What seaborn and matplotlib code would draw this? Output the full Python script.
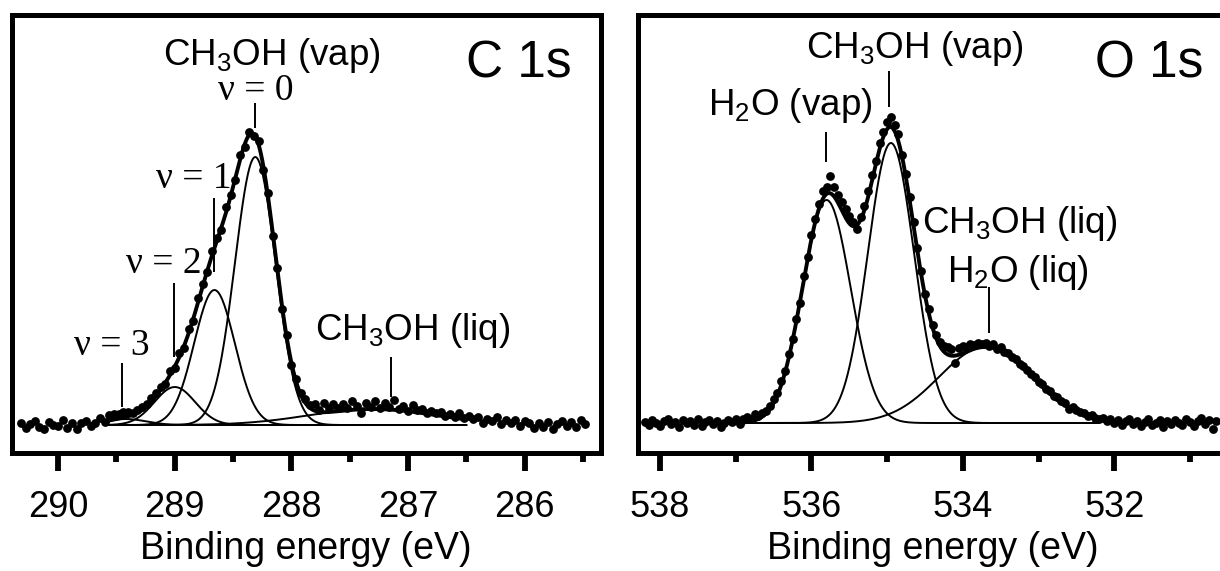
import matplotlib
matplotlib.use("Agg")
import matplotlib.pyplot as plt
import numpy as np
import pandas as pd
import seaborn as sns

# ---- C 1s spectrum: measured points (binding energy in eV, intensity in a.u.)
c1s_energy = [
    290.32, 290.28, 290.24, 290.20, 290.16, 290.12, 290.08, 290.04, 290.00, 289.96,
    289.92, 289.88, 289.84, 289.80, 289.76, 289.72, 289.68, 289.64, 289.60, 289.56,
    289.52, 289.48, 289.44, 289.40, 289.36, 289.32, 289.28, 289.24, 289.20, 289.16,
    289.12, 289.08, 289.04, 289.00, 288.96, 288.92, 288.88, 288.84, 288.80, 288.76,
    288.72, 288.68, 288.64, 288.60, 288.56, 288.52, 288.48, 288.44, 288.40, 288.36,
    288.32, 288.28, 288.24, 288.20, 288.16, 288.12, 288.08, 288.04, 288.00, 287.96,
    287.92, 287.88, 287.84, 287.80, 287.76, 287.72, 287.68, 287.64, 287.60, 287.56,
    287.52, 287.48, 287.44, 287.40, 287.36, 287.32, 287.28, 287.24, 287.20, 287.16,
    287.12, 287.08, 287.04, 287.00, 286.96, 286.92, 286.88, 286.84, 286.80, 286.76,
    286.72, 286.68, 286.64, 286.60, 286.56, 286.52, 286.48, 286.44, 286.40, 286.36,
    286.32, 286.28, 286.24, 286.20, 286.16, 286.12, 286.08, 286.04, 286.00, 285.96,
    285.92, 285.88, 285.84, 285.80, 285.76, 285.72, 285.68, 285.64, 285.60, 285.56,
    285.52, 285.48,
]
c1s_counts = [
    2, -3, 1, 4, -2, -4, 3, 0, -1, 5,
    -3, 2, -4, 2, 4, -1, 2, 7, 3, 10,
    11, 11, 13, 13, 12, 15, 18, 21, 27, 32,
    38, 41, 54, 57, 72, 77, 96, 104, 127, 141,
    153, 174, 187, 195, 218, 230, 245, 270, 278, 293,
    289, 284, 255, 232, 189, 157, 116, 90, 60, 46,
    32, 26, 20, 21, 15, 22, 17, 21, 17, 21,
    17, 24, 19, 12, 22, 18, 24, 17, 22, 18,
    25, 16, 19, 14, 20, 15, 16, 12, 14, 12,
    13, 9, 11, 8, 12, 7, 9, 6, 8, 2,
    6, 4, 8, 1, 5, 2, 5, -1, 4, 2,
    -3, 2, -2, 3, -4, 1, 4, -1, 3, -2,
    5, 1,
]

# C 1s fit components: centre (eV), height (a.u.), FWHM (eV)
c1s_centre = [288.31, 288.66, 289.00, 289.42, 287.30]
c1s_height = [268, 135, 38, 6, 16]
c1s_fwhm = [0.41, 0.41, 0.41, 0.41, 1.30]
c1s_fit_range = [289.60, 286.50]

# ---- O 1s spectrum
o1s_energy = [
    538.20, 538.15, 538.10, 538.05, 538.00, 537.95, 537.90, 537.85, 537.80, 537.75,
    537.70, 537.65, 537.60, 537.55, 537.50, 537.45, 537.40, 537.35, 537.30, 537.25,
    537.20, 537.15, 537.10, 537.05, 537.00, 536.95, 536.90, 536.85, 536.80, 536.75,
    536.70, 536.65, 536.60, 536.55, 536.50, 536.45, 536.40, 536.35, 536.30, 536.25,
    536.20, 536.15, 536.10, 536.05, 536.00, 535.95, 535.90, 535.85, 535.80, 535.75,
    535.70, 535.65, 535.60, 535.55, 535.50, 535.45, 535.40, 535.35, 535.30, 535.25,
    535.20, 535.15, 535.10, 535.05, 535.00, 534.95, 534.90, 534.85, 534.80, 534.75,
    534.70, 534.65, 534.60, 534.55, 534.50, 534.45, 534.40, 534.35, 534.30, 534.25,
    534.20, 534.15, 534.10, 534.05, 534.00, 533.95, 533.90, 533.85, 533.80, 533.75,
    533.70, 533.65, 533.60, 533.55, 533.50, 533.45, 533.40, 533.35, 533.30, 533.25,
    533.20, 533.15, 533.10, 533.05, 533.00, 532.95, 532.90, 532.85, 532.80, 532.75,
    532.70, 532.65, 532.60, 532.55, 532.50, 532.45, 532.40, 532.35, 532.30, 532.25,
    532.20, 532.15, 532.10, 532.05, 532.00, 531.95, 531.90, 531.85, 531.80, 531.75,
    531.70, 531.65, 531.60, 531.55, 531.50, 531.45, 531.40, 531.35, 531.30, 531.25,
    531.20, 531.15, 531.10, 531.05, 531.00, 530.95, 530.90, 530.85, 530.80, 530.75,
    530.70, 530.65,
]
o1s_counts = [
    1, -2, 3, 0, -3, 2, 4, -1, 1, -4,
    3, 0, 2, -2, 4, -3, 1, 3, -1, 2,
    -4, 0, 3, 1, 4, -1, 4, 6, 4, 9,
    7, 10, 12, 17, 24, 30, 42, 52, 69, 84,
    104, 120, 147, 166, 188, 204, 219, 232, 236, 247,
    236, 228, 221, 214, 207, 201, 194, 206, 217, 232,
    248, 262, 280, 291, 301, 306, 298, 289, 268, 249,
    226, 201, 175, 152, 129, 114, 98, 88, 81, 77,
    76, 74, 60, 75, 77, 76, 79, 78, 80, 79,
    80, 77, 79, 74, 76, 71, 70, 66, 64, 59,
    57, 53, 49, 46, 41, 39, 34, 32, 27, 26,
    22, 20, 14, 16, 13, 11, 10, 7, 8, 5,
    4, 5, 2, 4, 0, 3, -2, 2, 4, -1,
    2, -3, 1, 4, -2, 0, 3, -4, 2, -1,
    3, 0, -2, 4, 1, -3, 2, 5, -1, 3,
    -6, 2,
]

# O 1s fit components: H2O (vap), CH3OH (vap), liquid
o1s_centre = [535.80, 534.95, 533.70]
o1s_height = [223, 280, 76]
o1s_fwhm = [0.75, 0.72, 1.45]
o1s_fit_range = [537.20, 532.20]


def gauss(x, centre, height, fwhm):
    sigma = fwhm / 2.3548
    return height * np.exp(-0.5 * ((x - centre) / sigma) ** 2)


sns.set_style("ticks")
plt.rcParams["font.family"] = ["Liberation Sans", "DejaVu Sans"]
plt.rcParams["mathtext.fontset"] = "custom"
plt.rcParams["mathtext.rm"] = "Liberation Sans"
plt.rcParams["mathtext.default"] = "regular"
plt.rcParams["text.color"] = "black"
plt.rcParams["axes.labelcolor"] = "black"
plt.rcParams["xtick.color"] = "black"
plt.rcParams["xtick.labelcolor"] = "black"

fig = plt.figure(figsize=(12.2, 5.71), dpi=100)
ax_c = fig.add_axes([0.00943, 0.2075, 0.4828, 0.7662])
ax_o = fig.add_axes([0.5230, 0.2075, 0.4828, 0.7662])


def draw_panel(ax, energy, counts, centres, heights, fwhms, fit_range):
    df = pd.DataFrame({"energy": energy, "counts": counts})
    xfit = np.linspace(fit_range[0], fit_range[1], 600)
    total = np.zeros_like(xfit)
    for c, h, w in zip(centres, heights, fwhms):
        comp = gauss(xfit, c, h, w)
        total += comp
        sns.lineplot(x=xfit, y=comp, color="black", lw=1.4, ax=ax, sort=False)
    sns.lineplot(x=xfit, y=total, color="black", lw=2.8, ax=ax, sort=False)
    sns.scatterplot(data=df, x="energy", y="counts", color="black", s=40,
                    linewidth=0, ax=ax, zorder=3)
    ax.set_yticks([])
    ax.set_ylabel("")
    ax.set_xlabel("Binding energy (eV)", fontsize=27, labelpad=4, color="black")
    for side in ["left", "right", "top", "bottom"]:
        ax.spines[side].set_visible(True)
        ax.spines[side].set_linewidth(3.6)
        ax.spines[side].set_color("black")
    ax.tick_params(axis="x", which="major", direction="out", length=13, width=4.2,
                   labelsize=26, pad=14, color="black", labelcolor="black")
    ax.tick_params(axis="x", which="minor", direction="out", length=6.5, width=4.2,
                   color="black")
    ax.tick_params(axis="y", which="both", left=False, right=False)


draw_panel(ax_c, c1s_energy, c1s_counts, c1s_centre, c1s_height, c1s_fwhm, c1s_fit_range)
draw_panel(ax_o, o1s_energy, o1s_counts, o1s_centre, o1s_height, o1s_fwhm, o1s_fit_range)

# C 1s axis setup
ax_c.set_xlim(290.40, 285.35)
ax_c.set_ylim(-27.5, 410)
ax_c.set_xticks([290, 289, 288, 287, 286])
ax_c.set_xticks([289.5, 288.5, 287.5, 286.5, 285.5], minor=True)

# O 1s axis setup
ax_o.set_xlim(538.29, 530.51)
ax_o.set_ylim(-29.5, 408)
ax_o.set_xticks([538, 536, 534, 532])
ax_o.set_xticks([537, 535, 533, 531], minor=True)

serif = ["Liberation Serif", "DejaVu Serif"]
lab = 26.5
k = "black"

# C 1s annotations
ax_c.text(0.9516, 0.8583, "C 1s", transform=ax_c.transAxes, ha="right",
          va="baseline", fontsize=37, color=k)
ax_c.text(288.17, 360, "CH$_3$OH (vap)", ha="center", va="baseline", fontsize=lab, color=k)
ax_c.text(288.31, 325, "\u03bd = 0", ha="center", va="baseline", fontsize=27, family=serif, color=k)
ax_c.vlines(288.31, 297, 322, color=k, lw=1.4)
ax_c.text(288.84, 237, "\u03bd = 1", ha="center", va="baseline", fontsize=27, family=serif, color=k)
ax_c.vlines(288.66, 153, 227, color=k, lw=1.4)
ax_c.text(289.09, 152, "\u03bd = 2", ha="center", va="baseline", fontsize=27, family=serif, color=k)
ax_c.vlines(289.01, 68, 142, color=k, lw=1.4)
ax_c.text(289.54, 70, "\u03bd = 3", ha="center", va="baseline", fontsize=27, family=serif, color=k)
ax_c.vlines(289.45, 18, 62, color=k, lw=1.4)
ax_c.text(286.96, 85, "CH$_3$OH (liq)", ha="center", va="baseline", fontsize=lab, color=k)
ax_c.vlines(287.15, 28, 68, color=k, lw=1.4)

# O 1s annotations
ax_o.text(0.959, 0.8583, "O 1s", transform=ax_o.transAxes, ha="right",
          va="baseline", fontsize=37, color=k)
ax_o.text(534.63, 365, "CH$_3$OH (vap)", ha="center", va="baseline", fontsize=lab, color=k)
ax_o.vlines(534.97, 316, 352, color=k, lw=1.4)
ax_o.text(536.28, 308, "H$_2$O (vap)", ha="center", va="baseline", fontsize=lab, color=k)
ax_o.vlines(535.81, 261, 291, color=k, lw=1.4)
ax_o.text(533.25, 190, "CH$_3$OH (liq)", ha="center", va="baseline", fontsize=lab, color=k)
ax_o.text(533.27, 141, "H$_2$O (liq)", ha="center", va="baseline", fontsize=lab, color=k)
ax_o.vlines(533.65, 90, 136, color=k, lw=1.4)

fig.savefig("out.png", dpi=100)
